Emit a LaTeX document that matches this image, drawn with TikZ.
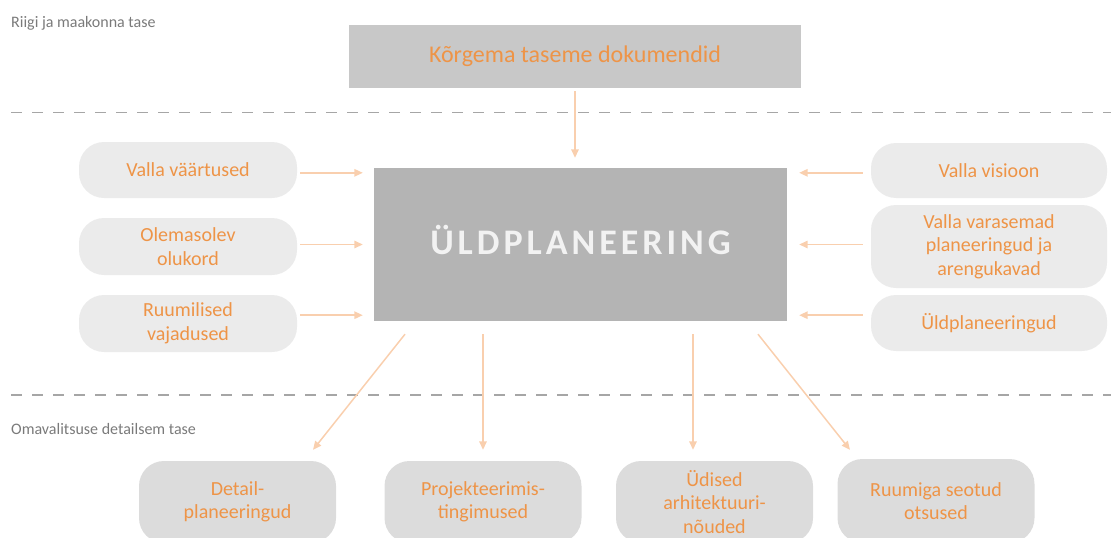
\documentclass[tikz,border=0pt]{standalone}
\usepackage{fontspec}
\setmainfont{Carlito}
\newfontfamily\spacedfont[LetterSpace=11]{Carlito}
\usetikzlibrary{arrows.meta}
\definecolor{txtorange}{HTML}{EE9447}
\definecolor{arrorange}{HTML}{F9CFAE}
\definecolor{boxlight}{HTML}{EBEBEB}
\definecolor{boxmid}{HTML}{DCDCDC}
\definecolor{boxtop}{HTML}{C8C8C8}
\definecolor{boxcenter}{HTML}{B4B4B4}
\definecolor{sepgray}{HTML}{A6A6A6}
\definecolor{lvlgray}{HTML}{7A7A7A}
\begin{document}
\begin{tikzpicture}[x=1pt,y=-1pt,
  box/.style={rectangle, inner sep=0pt, align=center, text=txtorange, font=\fontsize{20}{23.5}\selectfont},
  sidebox/.style={box, fill=boxlight, rounded corners=25pt},
  bottombox/.style={box, fill=boxmid, rounded corners=25pt, minimum width=197pt, minimum height=82pt},
  arr/.style={draw=arrorange, line width=1.5pt, -{Triangle[length=8.5pt,width=7.5pt]}},
  sep/.style={draw=sepgray, line width=1.5pt, dash pattern=on 11pt off 10pt},
  lvl/.style={anchor=west, text=lvlgray, font=\fontsize{16}{19}\selectfont, inner sep=0pt}
]
\useasboundingbox (0,0) rectangle (1111,538);

% level labels and separators
\node[lvl] (lvltop) at (11,23) {Riigi ja maakonna tase};
\node[lvl] (lvlbot) at (11,429) {Omavalitsuse detailsem tase};
\coordinate (s1a) at (11,112.5);
\coordinate (s1b) at (1111,112.5);
\coordinate (s2a) at (11,395);
\coordinate (s2b) at (1111,395);
\draw[sep] (s1a) -- (s1b);
\draw[sep] (s2a) -- (s2b);

% top box
\node[box, fill=boxtop, minimum width=452pt, minimum height=63pt, font=\fontsize{24}{28}\selectfont] (top) at (575,56.5) {Kõrgema taseme dokumendid};

% center box
\node[rectangle, fill=boxcenter, minimum width=413pt, minimum height=153pt, inner sep=0pt] (c) at (580.5,244.5) {};
\node[inner sep=0pt, text=white!95!black, font=\spacedfont\bfseries\fontsize{36}{40}\selectfont, anchor=base] (ctext) at ([yshift=-10pt]c.center) {ÜLDPLANEERING};

% left boxes
\node[sidebox, minimum width=218pt, minimum height=56pt] (lb1) at (188,170) {Valla väärtused};
\node[sidebox, minimum width=218pt, minimum height=57pt] (lb2) at (188,246.5) {Olemasolev\\olukord};
\node[sidebox, minimum width=218pt, minimum height=57pt] (lb3) at (188,323.5) {Ruumilised\\vajadused};

% right boxes
\node[sidebox, minimum width=236pt, minimum height=55pt] (rb1) at (989,170.5) {Valla visioon};
\node[sidebox, minimum width=236pt, minimum height=83pt] (rb2) at (989,246.5) {Valla varasemad\\planeeringud ja\\arengukavad};
\node[sidebox, minimum width=236pt, minimum height=56pt] (rb3) at (989,323) {Üldplaneeringud};

% bottom boxes
\node[bottombox] (d1) at (237.5,502) {Detail-\\planeeringud};
\node[bottombox] (d2) at (483,502) {Projekteerimis-\\tingimused};
\node[bottombox] (d3) at (714.5,502) {Üdised\\arhitektuuri-\\nõuded};
\node[bottombox, minimum height=84pt] (d4) at (936,501) {Ruumiga seotud\\otsused};

% arrow anchor coordinates on the center box
\coordinate (cl1) at ([xshift=-11pt,yshift=-5pt]c.north west);
\coordinate (cl2) at ([xshift=-11pt]c.west);
\coordinate (cl3) at ([xshift=-11pt,yshift=6pt]c.south west);
\coordinate (cr1) at ([xshift=12pt,yshift=-5pt]c.north east);
\coordinate (cr2) at ([xshift=12pt]c.east);
\coordinate (cr3) at ([xshift=12pt,yshift=6pt]c.south east);

% arrows
\draw[arr] ([yshift=-3pt]top.south) -- ([yshift=10pt]top.south |- c.north);
\draw[arr] ([xshift=3pt]lb1.east |- cl1) -- (cl1);
\draw[arr] ([xshift=3pt]lb2.east |- cl2) -- (cl2);
\draw[arr] ([xshift=3pt]lb3.east |- cl3) -- (cl3);
\draw[arr] ([xshift=-8pt]rb1.west |- cr1) -- (cr1);
\draw[arr] ([xshift=-8pt]rb2.west |- cr2) -- (cr2);
\draw[arr] ([xshift=-8pt]rb3.west |- cr3) -- (cr3);

\draw[arr] ([xshift=-175.5pt,yshift=-13pt]c.south) -- ([xshift=75.5pt,yshift=11pt]d1.north);
\draw[arr] ([xshift=-97.5pt,yshift=-13pt]c.south) -- ([yshift=11pt]d2.north);
\draw[arr] ([xshift=112.5pt,yshift=-13pt]c.south) -- ([xshift=-21.5pt,yshift=11pt]d3.north);
\draw[arr] ([xshift=177.5pt,yshift=-13pt]c.south) -- ([xshift=-86pt,yshift=9pt]d4.north);
\end{tikzpicture}
\end{document}
